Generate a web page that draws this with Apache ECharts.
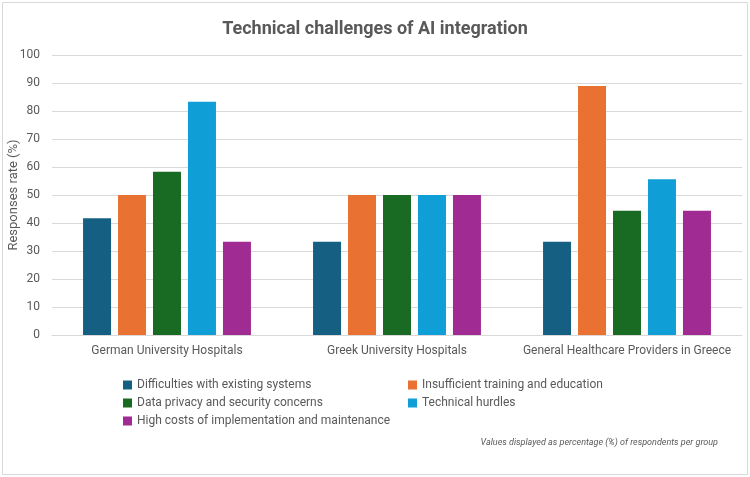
<!DOCTYPE html>
<html>
<head>
<meta charset="utf-8">
<script src="https://cdn.jsdelivr.net/npm/echarts@6/dist/echarts.min.js"></script>
<style>
  html, body { margin: 0; padding: 0; background: #fff; }
  #chart { width: 750px; height: 477px; }
</style>
</head>
<body>
<div id="chart"></div>
<script>
  // groups on the x axis
  var categories = ['German University Hospitals', 'Greek University Hospitals', 'General Healthcare Providers in Greece'];

  var seriesNames = [
    'Difficulties with existing systems',
    'Insufficient training and education',
    'Data privacy and security concerns',
    'Technical hurdles',
    'High costs of implementation and maintenance'
  ];

  var difficulties = [41.7, 33.3, 33.3];
  var training = [50, 50, 88.9];
  var privacy = [58.3, 50, 44.4];
  var hurdles = [83.3, 50, 55.6];
  var costs = [33.3, 50, 44.4];

  var colors = ['#156082', '#E97132', '#196B24', '#0F9ED5', '#A02B93'];
  var yTicks = [0, 10, 20, 30, 40, 50, 60, 70, 80, 90, 100];

  var values = [difficulties, training, privacy, hurdles, costs];
  var textColor = '#595959';
  var font = 'Roboto, "Liberation Sans", sans-serif';

  var series = [];
  for (var i = 0; i < seriesNames.length; i++) {
    series.push({
      name: seriesNames[i],
      type: 'bar',
      data: values[i],
      barGap: '25%',
      barCategoryGap: '27%',
      itemStyle: { color: colors[i] }
    });
  }

  var legendStyle = {
    orient: 'vertical',
    itemWidth: 9,
    itemHeight: 9,
    itemGap: 6,
    icon: 'rect',
    textStyle: { color: textColor, fontSize: 12, fontFamily: font }
  };

  var chart = echarts.init(document.getElementById('chart'));
  chart.setOption({
    animation: false,
    color: colors,
    title: {
      text: 'Technical challenges of AI integration',
      left: 'center',
      top: 15,
      textStyle: { color: textColor, fontSize: 18, fontWeight: 'bold', fontFamily: font }
    },
    graphic: [
      {
        type: 'rect',
        shape: { x: 2.5, y: 2.5, width: 745, height: 472 },
        style: { fill: 'none', stroke: '#d9d9d9', lineWidth: 1 },
        silent: true
      },
      {
        type: 'text',
        right: 32,
        top: 438,
        style: {
          text: 'Values displayed as percentage (%) of respondents per group',
          fill: textColor,
          fontSize: 9,
          fontStyle: 'italic',
          fontFamily: font
        }
      }
    ],
    legend: [
      Object.assign({ left: 118, top: 374, data: [seriesNames[0], seriesNames[2], seriesNames[4]] }, legendStyle),
      Object.assign({ left: 403, top: 374, data: [seriesNames[1], seriesNames[3]] }, legendStyle)
    ],
    grid: { left: 52, right: 8, top: 55, bottom: 142, outerBoundsMode: 'none' },
    xAxis: {
      type: 'category',
      data: categories,
      axisLine: { lineStyle: { color: '#d9d9d9' } },
      axisTick: { show: false },
      axisLabel: { color: textColor, fontSize: 12, fontFamily: font, margin: 10, interval: 0 }
    },
    yAxis: {
      type: 'value',
      min: yTicks[0],
      max: yTicks[yTicks.length - 1],
      interval: 10,
      name: 'Responses rate (%)',
      nameLocation: 'middle',
      nameRotate: 90,
      nameGap: 32,
      nameMoveOverlap: false,
      nameTextStyle: { color: textColor, fontSize: 13, fontFamily: font },
      axisLine: { show: false },
      axisTick: { show: false },
      axisLabel: { color: textColor, fontSize: 12, fontFamily: font, margin: 12 },
      splitLine: { lineStyle: { color: '#d9d9d9' } }
    },
    series: series
  });
</script>
</body>
</html>
